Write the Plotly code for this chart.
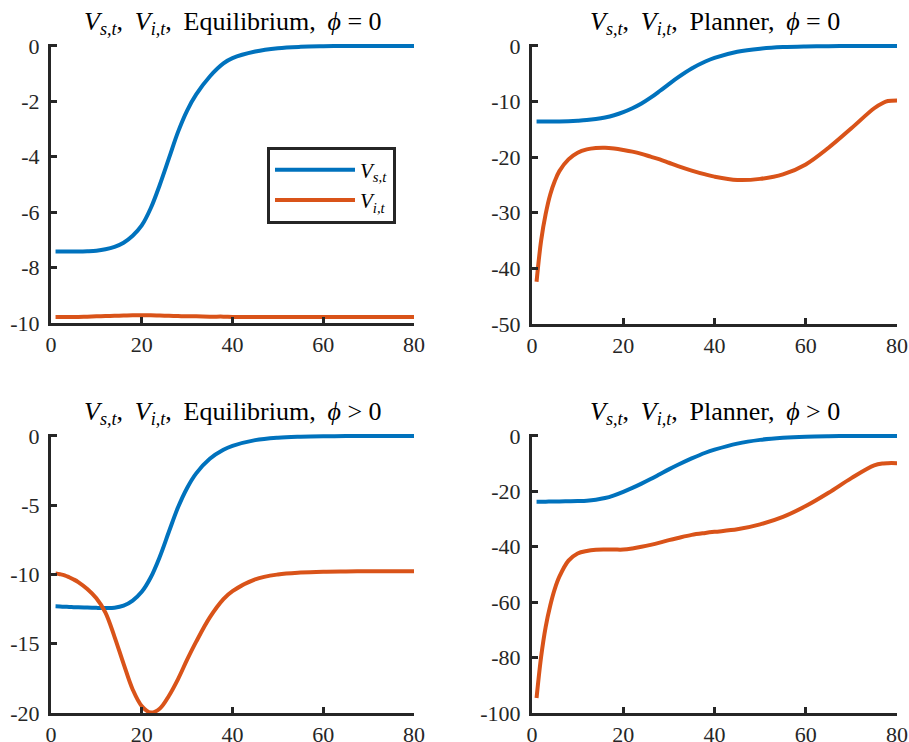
import plotly.graph_objects as go

# ---------------- data ----------------
t = [1, 2, 3, 4, 5, 6, 8, 10, 12, 14, 16, 18, 20, 22, 24, 26, 28, 30, 32,
     35, 38, 40, 45, 50, 55, 60, 65, 70, 75, 77, 78, 80]

# Equilibrium, phi = 0
eq0_vs = [-7.42, -7.42, -7.42, -7.42, -7.42, -7.42, -7.41, -7.39, -7.34, -7.25,
          -7.10, -6.85, -6.48, -5.85, -5.00, -4.05, -3.10, -2.33, -1.75,
          -1.10, -0.63, -0.44, -0.20, -0.08, -0.03, -0.01, 0.0, 0.0,
          0.0, 0.0, 0.0, 0.0]
eq0_vi = [-9.78, -9.78, -9.78, -9.78, -9.78, -9.78, -9.77, -9.76, -9.75, -9.74,
          -9.73, -9.72, -9.72, -9.72, -9.73, -9.74, -9.75, -9.76, -9.76,
          -9.77, -9.77, -9.78, -9.78, -9.78, -9.78, -9.78, -9.78, -9.78,
          -9.78, -9.78, -9.78, -9.78]

# Planner, phi = 0
pl0_vs = [-13.6, -13.6, -13.6, -13.59, -13.58, -13.57, -13.53, -13.45, -13.33, -13.13,
          -12.85, -12.45, -11.9, -11.2, -10.35, -9.3, -8.1, -6.85, -5.65,
          -4.05, -2.8, -2.15, -1.05, -0.48, -0.2, -0.08, -0.03, -0.01,
          0.0, 0.0, 0.0, 0.0]
pl0_vi = [-42.4, -35.0, -30.2, -26.7, -24.3, -22.5, -20.4, -19.2, -18.6, -18.35,
          -18.3, -18.45, -18.7, -19.0, -19.4, -19.9, -20.4, -21.0, -21.6,
          -22.4, -23.1, -23.5, -24.1, -23.9, -23.1, -21.3, -18.3, -14.8,
          -11.2, -10.2, -9.9, -9.8]

# Equilibrium, phi > 0
eqp_vs = [-12.30, -12.31, -12.33, -12.34, -12.36, -12.37, -12.39, -12.41, -12.42, -12.40,
          -12.25, -11.88, -11.25, -10.20, -8.70, -6.90, -5.15, -3.75, -2.70,
          -1.65, -1.00, -0.72, -0.30, -0.12, -0.05, -0.02, -0.01, 0.0,
          0.0, 0.0, 0.0, 0.0]
eqp_vi = [-9.92, -9.98, -10.06, -10.20, -10.36, -10.55, -11.05, -11.72, -12.75, -14.50,
          -16.45, -18.30, -19.50, -19.97, -19.67, -18.75, -17.55, -16.15, -14.85,
          -13.10, -11.78, -11.20, -10.35, -10.00, -9.86, -9.80, -9.78, -9.77,
          -9.77, -9.77, -9.77, -9.77]

# Planner, phi > 0
plp_vs = [-23.7, -23.7, -23.7, -23.68, -23.66, -23.62, -23.55, -23.47, -23.35, -23.0,
          -22.4, -21.4, -20.15, -18.75, -17.2, -15.55, -13.8, -12.05, -10.4,
          -8.1, -6.05, -4.95, -2.75, -1.4, -0.65, -0.25, -0.08, -0.02,
          0.0, 0.0, 0.0, 0.0]
plp_vi = [-94.6, -79.7, -68.9, -61.2, -55.2, -50.8, -45.0, -42.4, -41.5, -41.1,
          -41.0, -41.0, -41.0, -40.6, -40.0, -39.3, -38.5, -37.6, -36.8,
          -35.7, -35.0, -34.6, -33.7, -31.9, -29.2, -25.3, -20.5, -15.2,
          -10.6, -9.9, -9.8, -9.8]

x_ticks = [0, 20, 40, 60, 80]
y_ticks_eq0 = [-10, -8, -6, -4, -2, 0]
y_ticks_pl0 = [-50, -40, -30, -20, -10, 0]
y_ticks_eqp = [-20, -15, -10, -5, 0]
y_ticks_plp = [-100, -80, -60, -40, -20, 0]

_V = "<i>V</i><sub><i>s,t</i></sub>,\u2009 <i>V</i><sub><i>i,t</i></sub>,\u2009 "
titles = [
    _V + "Equilibrium,\u2009 <i>ϕ</i> = 0",
    _V + "Planner,\u2009 <i>ϕ</i> = 0",
    _V + "Equilibrium,\u2009 <i>ϕ</i> &gt; 0",
    _V + "Planner,\u2009 <i>ϕ</i> &gt; 0",
]
legend_names = ["<i>V</i><sub><i>s,t</i></sub>", "<i>V</i><sub><i>i,t</i></sub>"]

# ---------------- style ----------------
W, H = 909, 742
BLUE = "#0072BD"
ORANGE = "#D95319"
AX = "#262626"
SERIF = "Liberation Serif, DejaVu Serif, serif"
LW = 4.0

# plot-area pixel boxes (left, right, top, bottom)
boxes = [(51, 414, 44, 323), (532, 897, 44, 324), (51, 414, 434, 713), (532, 897, 434, 713)]

panels = [
    (eq0_vs, eq0_vi, y_ticks_eq0),
    (pl0_vs, pl0_vi, y_ticks_pl0),
    (eqp_vs, eqp_vi, y_ticks_eqp),
    (plp_vs, plp_vi, y_ticks_plp),
]

fig = go.Figure()
layout = dict(width=W, height=H, margin=dict(l=0, r=0, t=0, b=0, autoexpand=False),
              paper_bgcolor="white", plot_bgcolor="white", template="none",
              showlegend=True, annotations=[])

for k, ((vs, vi, yt), (L, R, T, B)) in enumerate(zip(panels, boxes)):
    n = "" if k == 0 else str(k + 1)
    xa, ya = "x" + n, "y" + n
    fig.add_trace(go.Scatter(x=t, y=vs, mode="lines", xaxis=xa, yaxis=ya,
                             line=dict(color=BLUE, width=LW, shape="spline"),
                             name=legend_names[0], showlegend=(k == 0)))
    fig.add_trace(go.Scatter(x=t, y=vi, mode="lines", xaxis=xa, yaxis=ya,
                             line=dict(color=ORANGE, width=LW, shape="spline"),
                             name=legend_names[1], showlegend=(k == 0)))
    lo, hi = min(yt), max(yt)
    pad = (hi - lo) * 2.0 / (B - T)
    common = dict(showline=True, linecolor=AX, linewidth=3, ticks="inside",
                  ticklen=6, tickwidth=3, tickcolor=AX, showgrid=False,
                  zeroline=False, fixedrange=True, automargin=False, mirror=False,
                  tickfont=dict(family=SERIF, size=22, color=AX))
    layout["xaxis" + n] = dict(domain=[L / W, R / W], anchor=ya, range=[0, 80],
                               tickvals=x_ticks, ticktext=[str(v) for v in x_ticks],
                               ticklabelstandoff=0, **common)
    layout["yaxis" + n] = dict(domain=[1 - B / H, 1 - T / H], anchor=xa,
                               range=[lo, hi + pad], tickvals=yt,
                               ticktext=[str(v) for v in yt],
                               ticklabelstandoff=4, **common)
    layout["annotations"].append(dict(
        text=titles[k], xref="paper", yref="paper", x=(L + R) / 2 / W,
        y=1 - (T - 21) / H, xanchor="center", yanchor="middle", showarrow=False,
        font=dict(family=SERIF, size=26, color="black")))

layout["legend"] = dict(x=267 / W, y=1 - 185 / H, xanchor="left", yanchor="middle",
                        bgcolor="white", bordercolor=AX, borderwidth=3,
                        itemwidth=80, font=dict(family=SERIF, size=21, color="black"),
                        tracegroupgap=0)
fig.update_layout(**layout)
fig.write_html("out.html")
